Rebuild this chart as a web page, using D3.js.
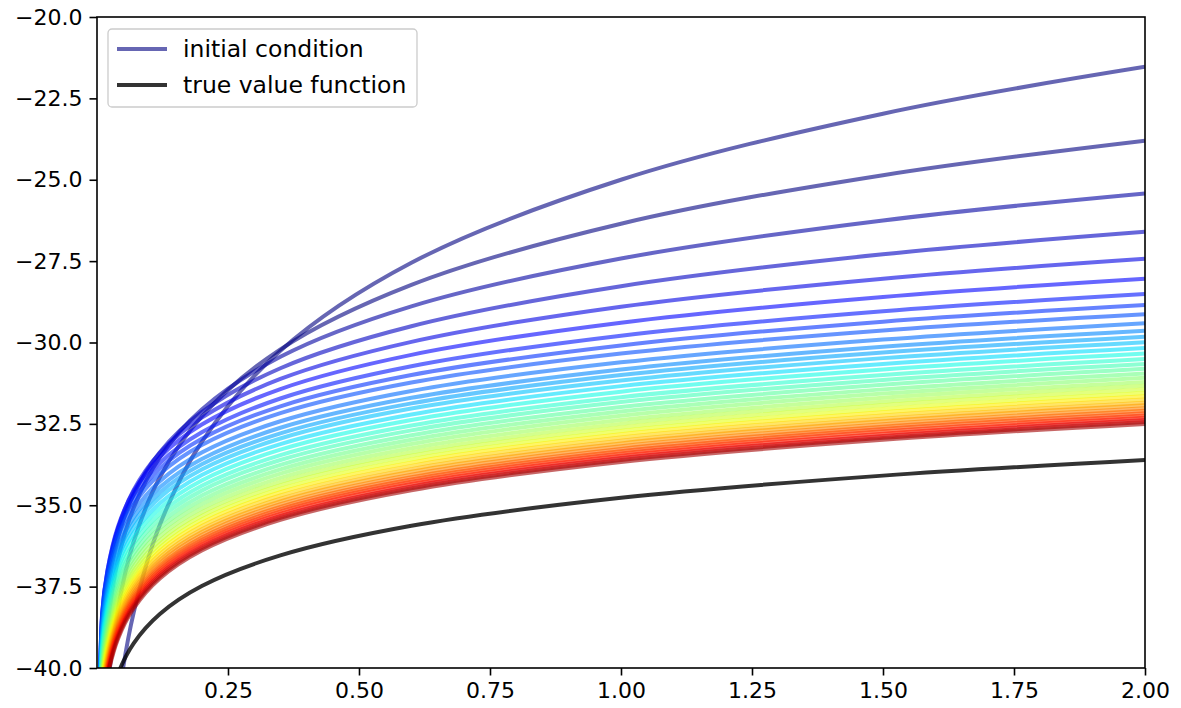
<!DOCTYPE html>
<html>
<head>
<meta charset="utf-8">
<script src="https://cdn.jsdelivr.net/npm/d3@7"></script>
<style>
  html, body { margin: 0; padding: 0; background: #fff; }
  svg { display: block; }
  text { font-family: "DejaVu Sans", sans-serif; fill: #000; }
</style>
</head>
<body>
<svg id="chart" width="1181" height="708"></svg>
<script>
// ---------------- data ----------------
const xGrid = [0.00001, 0.01, 0.02, 0.04, 0.07, 0.12, 0.2, 0.35, 0.6, 1.0, 1.5, 2.0];

const initialCondition = [-82.56, -48.03, -44.56, -41.09, -38.30, -35.60, -33.05, -30.25, -27.55, -25.00, -22.97, -21.53];

const iterates = [
  [-68.67, -43.28, -40.73, -38.18, -36.12, -34.14, -32.27, -30.21, -28.23, -26.35, -24.86, -23.80],
  [-60.60, -40.69, -38.69, -36.69, -35.08, -33.53, -32.06, -30.44, -28.89, -27.42, -26.25, -25.42],
  [-55.96, -39.34, -37.68, -36.01, -34.66, -33.37, -32.14, -30.79, -29.50, -28.27, -27.29, -26.60],
  [-53.30, -38.66, -37.19, -35.72, -34.53, -33.39, -32.31, -31.12, -29.98, -28.90, -28.04, -27.43],
  [-51.81, -38.36, -37.01, -35.66, -34.57, -33.52, -32.52, -31.43, -30.38, -29.39, -28.60, -28.04],
  [-51.02, -38.28, -37.00, -35.72, -34.69, -33.70, -32.76, -31.72, -30.73, -29.79, -29.04, -28.51],
  [-50.61, -38.30, -37.06, -35.83, -34.83, -33.87, -32.96, -31.96, -31.00, -30.09, -29.36, -28.85],
  [-50.44, -38.38, -37.17, -35.96, -34.98, -34.04, -33.15, -32.17, -31.23, -30.34, -29.63, -29.13],
  [-50.45, -38.54, -37.35, -36.15, -35.19, -34.26, -33.38, -32.42, -31.49, -30.61, -29.91, -29.41],
  [-50.51, -38.70, -37.52, -36.33, -35.37, -34.45, -33.58, -32.62, -31.70, -30.83, -30.13, -29.64],
  [-50.60, -38.84, -37.66, -36.48, -35.53, -34.61, -33.74, -32.79, -31.87, -31.00, -30.31, -29.82],
  [-50.70, -38.98, -37.81, -36.63, -35.68, -34.76, -33.90, -32.95, -32.03, -31.17, -30.48, -29.99],
  [-50.85, -39.15, -37.97, -36.80, -35.85, -34.94, -34.07, -33.12, -32.21, -31.34, -30.66, -30.17],
  [-50.99, -39.30, -38.13, -36.96, -36.01, -35.10, -34.24, -33.29, -32.38, -31.51, -30.83, -30.34],
  [-51.14, -39.46, -38.29, -37.12, -36.18, -35.26, -34.40, -33.46, -32.55, -31.68, -31.00, -30.51],
  [-51.29, -39.61, -38.44, -37.27, -36.33, -35.41, -34.55, -33.61, -32.70, -31.83, -31.15, -30.66],
  [-51.44, -39.76, -38.59, -37.42, -36.48, -35.56, -34.70, -33.76, -32.85, -31.98, -31.30, -30.81],
  [-51.58, -39.90, -38.73, -37.56, -36.62, -35.70, -34.84, -33.90, -32.99, -32.12, -31.44, -30.95],
  [-51.71, -40.03, -38.86, -37.69, -36.75, -35.83, -34.97, -34.03, -33.12, -32.25, -31.57, -31.08],
  [-51.84, -40.16, -38.99, -37.82, -36.88, -35.96, -35.10, -34.16, -33.25, -32.38, -31.70, -31.21],
  [-51.96, -40.28, -39.11, -37.94, -37.00, -36.08, -35.22, -34.28, -33.37, -32.50, -31.82, -31.33],
  [-52.07, -40.39, -39.22, -38.05, -37.11, -36.19, -35.33, -34.39, -33.48, -32.61, -31.93, -31.44],
  [-52.18, -40.50, -39.33, -38.16, -37.22, -36.30, -35.44, -34.50, -33.59, -32.72, -32.04, -31.55],
  [-52.28, -40.60, -39.43, -38.26, -37.32, -36.40, -35.54, -34.60, -33.69, -32.82, -32.14, -31.65],
  [-52.38, -40.70, -39.53, -38.36, -37.42, -36.50, -35.64, -34.70, -33.79, -32.92, -32.24, -31.75],
  [-52.48, -40.80, -39.63, -38.46, -37.52, -36.60, -35.74, -34.80, -33.89, -33.02, -32.34, -31.85],
  [-52.56, -40.88, -39.71, -38.54, -37.60, -36.68, -35.82, -34.88, -33.97, -33.10, -32.42, -31.93],
  [-52.65, -40.97, -39.80, -38.63, -37.69, -36.77, -35.91, -34.97, -34.06, -33.19, -32.51, -32.02],
  [-52.73, -41.05, -39.88, -38.71, -37.77, -36.85, -35.99, -35.05, -34.14, -33.27, -32.59, -32.10],
  [-52.80, -41.12, -39.95, -38.78, -37.84, -36.92, -36.06, -35.12, -34.21, -33.34, -32.66, -32.17],
  [-52.87, -41.19, -40.02, -38.85, -37.91, -36.99, -36.13, -35.19, -34.28, -33.41, -32.73, -32.24],
  [-52.94, -41.26, -40.09, -38.92, -37.98, -37.06, -36.20, -35.26, -34.35, -33.48, -32.80, -32.31],
  [-53.01, -41.33, -40.16, -38.99, -38.05, -37.13, -36.27, -35.33, -34.42, -33.55, -32.87, -32.38],
  [-53.07, -41.39, -40.22, -39.05, -38.11, -37.19, -36.33, -35.39, -34.48, -33.61, -32.93, -32.44],
  [-53.13, -41.45, -40.28, -39.11, -38.17, -37.25, -36.39, -35.45, -34.54, -33.67, -32.99, -32.50]
];

const trueValue = [-54.12, -42.51, -41.35, -40.18, -39.24, -38.34, -37.48, -36.54, -35.63, -34.77, -34.09, -33.61];

const xTicks = [0.25, 0.5, 0.75, 1.0, 1.25, 1.5, 1.75, 2.0];
const yTicks = [-40, -37.5, -35, -32.5, -30, -27.5, -25, -22.5, -20];
const legendLabels = ["initial condition", "true value function"];

// ---------------- layout ----------------
const svg = d3.select("#chart");
const mLeft = 97, mRight = 1145, mTop = 17, mBottom = 668;

const x = d3.scaleLinear().domain([0.00001, 2.0]).range([mLeft, mRight]);
const y = d3.scaleLinear().domain([-40, -20]).range([mBottom, mTop]);

// matplotlib "jet" colormap
const jetR = d3.scaleLinear().domain([0, 0.35, 0.66, 0.89, 1]).range([0, 0, 1, 1, 0.5]).clamp(true);
const jetG = d3.scaleLinear().domain([0, 0.125, 0.375, 0.64, 0.91, 1]).range([0, 0, 1, 1, 0, 0]).clamp(true);
const jetB = d3.scaleLinear().domain([0, 0.11, 0.34, 0.65, 1]).range([0.5, 1, 1, 0, 0]).clamp(true);
function jet(t) {
  return d3.rgb(Math.round(jetR(t) * 255), Math.round(jetG(t) * 255), Math.round(jetB(t) * 255)).toString();
}

svg.append("defs").append("clipPath").attr("id", "plotClip")
  .append("rect").attr("x", mLeft).attr("y", mTop)
  .attr("width", mRight - mLeft).attr("height", mBottom - mTop);

const line = d3.line()
  .x(d => x(d[0]))
  .y(d => y(d[1]))
  .curve(d3.curveCatmullRom.alpha(0.5));

const toPts = vals => xGrid.map((xv, i) => [xv, vals[i]]);

const plot = svg.append("g").attr("clip-path", "url(#plotClip)");
const LW = 4;

plot.append("path")
  .attr("d", line(toPts(initialCondition)))
  .attr("fill", "none")
  .attr("stroke", jet(0))
  .attr("stroke-width", LW)
  .attr("stroke-opacity", 0.6);

const n = iterates.length;
iterates.forEach((vals, i) => {
  plot.append("path")
    .attr("d", line(toPts(vals)))
    .attr("fill", "none")
    .attr("stroke", jet(i / n))
    .attr("stroke-width", LW)
    .attr("stroke-opacity", 0.6);
});

plot.append("path")
  .attr("d", line(toPts(trueValue)))
  .attr("fill", "none")
  .attr("stroke", "#000")
  .attr("stroke-width", LW)
  .attr("stroke-opacity", 0.8);

// ---------------- axes ----------------
const fontSize = 22;
const xAxis = d3.axisBottom(x).tickValues(xTicks).tickSize(7.5).tickPadding(7)
  .tickFormat(d => d3.format(".2f")(d));
const yAxis = d3.axisLeft(y).tickValues(yTicks).tickSize(7.5).tickPadding(7)
  .tickFormat(d => d3.format(".1f")(d).replace("-", "\u2212"));

const gx = svg.append("g").attr("transform", `translate(0,${mBottom})`).call(xAxis);
const gy = svg.append("g").attr("transform", `translate(${mLeft},0)`).call(yAxis);
[gx, gy].forEach(g => {
  g.select(".domain").remove();
  g.selectAll(".tick line").attr("stroke", "#000").attr("stroke-width", 1.6);
  g.selectAll(".tick text").attr("font-size", fontSize)
    .style("font-family", "'DejaVu Sans', sans-serif").attr("fill", "#000");
});

// frame
svg.append("rect").attr("x", mLeft).attr("y", mTop)
  .attr("width", mRight - mLeft).attr("height", mBottom - mTop)
  .attr("fill", "none").attr("stroke", "#000").attr("stroke-width", 1.6);

// ---------------- legend ----------------
const lg = svg.append("g");
lg.append("rect").attr("x", 108).attr("y", 29).attr("width", 309).attr("height", 78)
  .attr("rx", 4).attr("ry", 4)
  .attr("fill", "#fff").attr("fill-opacity", 0.8)
  .attr("stroke", "#cccccc").attr("stroke-width", 1.3);

const legendItems = [
  { label: legendLabels[0], color: jet(0), op: 0.6, y: 49 },
  { label: legendLabels[1], color: "#000", op: 0.8, y: 85 }
];
legendItems.forEach(it => {
  lg.append("line").attr("x1", 117).attr("x2", 167).attr("y1", it.y).attr("y2", it.y)
    .attr("stroke", it.color).attr("stroke-opacity", it.op).attr("stroke-width", LW);
  lg.append("text").attr("x", 183).attr("y", it.y + 8)
    .attr("font-size", 23.5).text(it.label);
});
</script>
</body>
</html>
